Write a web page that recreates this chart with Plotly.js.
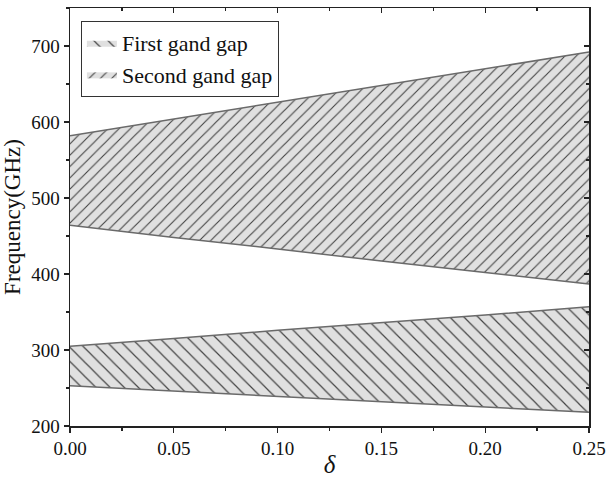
<!DOCTYPE html>
<html><head><meta charset="utf-8">
<script src="https://cdn.plot.ly/plotly-3.0.1.min.js"></script>
<style>body{margin:0;background:#fff}#chart{width:608px;height:478px}</style>
</head><body><div id="chart"></div>
<script>
const delta = [0.00, 0.05, 0.10, 0.15, 0.20, 0.25];
const firstLower  = [253, 246, 239, 232, 225, 218];
const firstUpper  = [305, 315, 326, 336, 346, 357];
const secondLower = [464, 448, 433, 417, 402, 387];
const secondUpper = [582, 604, 626, 648, 670, 692];
const names = ['First gand gap', 'Second gand gap'];

const edge = {color: '#6a6a6a', width: 1.5};
const font = 'Liberation Serif, Times New Roman, serif';
const pat1 = {shape: '\\', fgcolor: '#444', bgcolor: '#e0e0e0', size: 10, solidity: 0.12};
const pat2 = {shape: '/', fgcolor: '#444', bgcolor: '#e0e0e0', size: 8, solidity: 0.14};

const traces = [
  {x: delta, y: firstLower, mode: 'lines', line: edge, showlegend: false, hoverinfo: 'skip'},
  {x: delta, y: firstUpper, mode: 'lines', line: edge, fill: 'tonexty', showlegend: false,
   fillcolor: '#e0e0e0', fillpattern: pat1},
  {x: delta, y: secondLower, mode: 'lines', line: edge, showlegend: false, hoverinfo: 'skip'},
  {x: delta, y: secondUpper, mode: 'lines', line: edge, fill: 'tonexty', showlegend: false,
   fillcolor: '#e0e0e0', fillpattern: pat2},
  {x: [null], y: [null], mode: 'lines', fill: 'toself', line: {width: 0, color: 'rgba(0,0,0,0)'}, name: names[0],
   fillcolor: '#e0e0e0', fillpattern: pat1, legendrank: 1},
  {x: [null], y: [null], mode: 'lines', fill: 'toself', line: {width: 0, color: 'rgba(0,0,0,0)'}, name: names[1],
   fillcolor: '#e0e0e0', fillpattern: pat2, legendrank: 2},
  {x: [0], y: [200], xaxis: 'x2', yaxis: 'y2', mode: 'markers', marker: {opacity: 0}, showlegend: false, hoverinfo: 'skip'}
];

const axCommon = {linecolor: '#222', linewidth: 1.5, showgrid: false, zeroline: false,
  tickcolor: '#222', ticklen: 5, tickwidth: 1.2,
  tickfont: {family: font, size: 19, color: '#111'}};

const layout = {
  width: 608, height: 478,
  margin: {l: 70, r: 19, t: 8, b: 52},
  paper_bgcolor: '#fff', plot_bgcolor: '#fff',
  font: {family: font, color: '#111'},
  xaxis: Object.assign({}, axCommon, {range: [0, 0.25], tickvals: [0, 0.05, 0.1, 0.15, 0.2, 0.25],
    ticktext: ['0.00','0.05','0.10','0.15','0.20','0.25'], ticks: 'outside',
    minor: {dtick: 0.025, ticks: 'outside', ticklen: 3, tickcolor: '#222'},
    title: {text: '<i>δ</i>', font: {family: font, size: 25}, standoff: 2}}),
  yaxis: Object.assign({}, axCommon, {range: [200, 750], tickvals: [200,300,400,500,600,700], ticks: 'outside',
    minor: {dtick: 50, ticks: 'outside', ticklen: 3, tickcolor: '#222'},
    title: {text: 'Frequency(GHz)', font: {family: font, size: 23}, standoff: 5}}),
  xaxis2: Object.assign({}, axCommon, {range: [0, 0.25], overlaying: 'x', side: 'top', anchor: 'y2',
    dtick: 0.05, ticks: 'inside', showticklabels: false,
    minor: {dtick: 0.025, ticks: 'inside', ticklen: 3, tickcolor: '#222'}}),
  yaxis2: Object.assign({}, axCommon, {range: [200, 750], overlaying: 'y', side: 'right', anchor: 'x2',
    dtick: 100, ticks: 'inside', showticklabels: false,
    minor: {dtick: 50, ticks: 'inside', ticklen: 3, tickcolor: '#222'}}),
  legend: {x: 0.021, y: 0.969, xanchor: 'left', yanchor: 'top', bordercolor: '#333', borderwidth: 1,
    bgcolor: '#fff', font: {family: font, size: 22, color: '#111'}, tracegroupgap: 0, traceorder: 'normal'},
  showlegend: true
};

Plotly.newPlot('chart', traces, layout, {displayModeBar: false, staticPlot: true});
</script></body></html>
